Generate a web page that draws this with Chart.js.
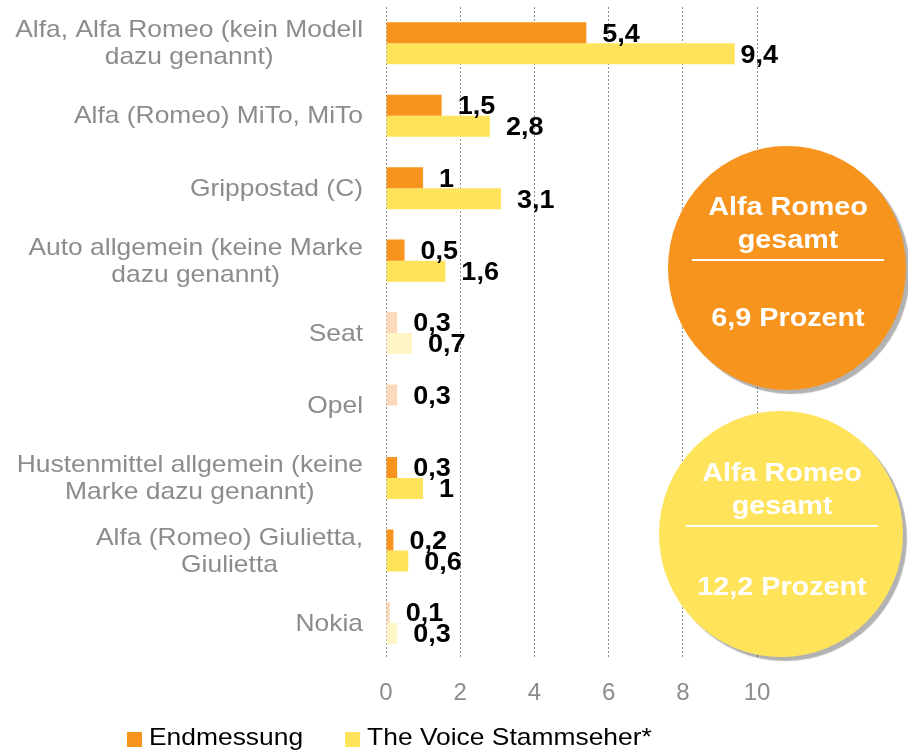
<!DOCTYPE html>
<html>
<head>
<meta charset="utf-8">
<script src="https://cdn.jsdelivr.net/npm/chart.js@4.4.1/dist/chart.umd.min.js"></script>
<style>
  html, body { margin: 0; padding: 0; background: #fff; }
  #wrap { width: 908px; height: 751px; }
</style>
</head>
<body>
<div id="wrap"><canvas id="chart"></canvas></div>
<script>
const categories = [
    ['Alfa, Alfa Romeo (kein Modell', 'dazu genannt)'],
    ['Alfa (Romeo) MiTo, MiTo'],
    ['Grippostad (C)'],
    ['Auto allgemein (keine Marke', 'dazu genannt)'],
    ['Seat'],
    ['Opel'],
    ['Hustenmittel allgemein (keine', 'Marke dazu genannt)'],
    ['Alfa (Romeo) Giulietta,', 'Giulietta'],
    ['Nokia']
];
const endmessung = [5.4, 1.5, 1, 0.5, 0.3, 0.3, 0.3, 0.2, 0.1];
const stammseher = [9.4, 2.8, 3.1, 1.6, 0.7, null, 1, 0.6, 0.3];
const faded = [false, false, false, false, true, true, false, false, true];
const seriesNames = ['Endmessung', 'The Voice Stammseher*'];
const totalTitle = ['Alfa Romeo', 'gesamt'];
const totals = ['6,9 Prozent', '12,2 Prozent'];
const xMin = 0, xMax = 10, xStep = 2;

const ORANGE = '#f7941d', ORANGE_LIGHT = '#fdd9bb';
const YELLOW = '#ffe35b', YELLOW_LIGHT = '#fff5c6';
const GREY = '#8c8c8c';
const FONT = '"Liberation Sans", Arial, sans-serif';

// the source picture's text is a bit wider than plain Arial
function stretchText(ctx, txt, x, y, sx) {
    ctx.save();
    ctx.translate(x, y);
    ctx.scale(sx, 1);
    ctx.fillText(txt, 0, 0);
    ctx.restore();
}

const decorations = {
    id: 'decorations',
    afterDatasetsDraw(chart) {
        const ctx = chart.ctx;
        const yScale = chart.scales.y;
        const area = chart.chartArea;

        // category labels: block right-aligned, lines centred in the block
        ctx.save();
        const SX = 1.1;
        ctx.font = '24px ' + FONT;
        ctx.fillStyle = GREY;
        ctx.textBaseline = 'middle';
        ctx.textAlign = 'center';
        const right = area.left - 23;
        const lineH = 27;
        categories.forEach((lines, i) => {
            const yc = yScale.getPixelForValue(i) + 1;
            const w = Math.max(...lines.map(l => ctx.measureText(l).width)) * SX;
            const cx = right - w / 2;
            lines.forEach((l, j) => {
                stretchText(ctx, l, cx, yc + (j - (lines.length - 1) / 2) * lineH, SX);
            });
        });
        ctx.restore();

        // value labels
        ctx.save();
        ctx.font = 'bold 25px ' + FONT;
        ctx.fillStyle = '#000';
        ctx.textBaseline = 'middle';
        ctx.textAlign = 'left';
        chart.data.datasets.forEach((ds, di) => {
            const meta = chart.getDatasetMeta(di);
            meta.data.forEach((bar, i) => {
                const v = ds.data[i];
                if (v === null || v === undefined) return;
                const txt = String(v).replace('.', ',');
                let x = bar.x + 16;
                const w = ctx.measureText(txt).width * 1.08;
                if (x + w > area.right + 21) x = area.right + 21 - w;
                stretchText(ctx, txt, x, bar.y + 2, 1.08);
            });
        });
        ctx.restore();

        // legend
        ctx.save();
        ctx.font = '24px ' + FONT;
        ctx.textBaseline = 'middle';
        ctx.textAlign = 'left';
        const ly = chart.height - 12;
        let lx = 127;
        [ORANGE, YELLOW].forEach((col, i) => {
            ctx.fillStyle = col;
            ctx.fillRect(lx, ly - 7, 15, 15);
            ctx.fillStyle = '#000';
            stretchText(ctx, seriesNames[i], lx + 22, ly - 1, 1.1);
            lx += 22 + ctx.measureText(seriesNames[i]).width * 1.1 + 42;
        });
        ctx.restore();
    },
    afterDraw(chart) {
        const ctx = chart.ctx;
        const circles = [
            { x: 787, y: 268, rx: 119, ry: 122, color: ORANGE, total: totals[0] },
            { x: 781, y: 534, rx: 122, ry: 123, color: YELLOW, total: totals[1] }
        ];
        circles.forEach((c, k) => {
            ctx.save();
            ctx.shadowColor = 'rgba(0,0,0,0.3)';
            ctx.shadowOffsetX = 4;
            ctx.shadowOffsetY = 4;
            ctx.shadowBlur = 1;
            ctx.fillStyle = c.color;
            ctx.beginPath();
            ctx.ellipse(c.x, c.y, c.rx, c.ry, 0, 0, Math.PI * 2);
            ctx.fill();
            ctx.restore();

            ctx.save();
            ctx.fillStyle = '#fff';
            ctx.strokeStyle = '#fff';
            ctx.font = 'bold 25px ' + FONT;
            ctx.textAlign = 'center';
            ctx.textBaseline = 'middle';
            stretchText(ctx, totalTitle[0], c.x + 1, c.y - 60, 1.15);
            stretchText(ctx, totalTitle[1], c.x + 1, c.y - 27, 1.15);
            ctx.lineWidth = 2;
            ctx.beginPath();
            ctx.moveTo(c.x - 95, c.y - 8);
            ctx.lineTo(c.x + 97, c.y - 8);
            ctx.stroke();
            stretchText(ctx, c.total, c.x + 1, c.y + 51 + k * 3, 1.15);
            ctx.restore();
        });
    }
};

const ctx = document.getElementById('chart').getContext('2d');
new Chart(ctx, {
    type: 'bar',
    data: {
        labels: categories.map((c, i) => i),
        datasets: [
            {
                label: seriesNames[0],
                data: endmessung,
                backgroundColor: c => faded[c.dataIndex] ? ORANGE_LIGHT : ORANGE,
                barPercentage: 1,
                categoryPercentage: 0.58
            },
            {
                label: seriesNames[1],
                data: stammseher,
                backgroundColor: c => faded[c.dataIndex] ? YELLOW_LIGHT : YELLOW,
                barPercentage: 1,
                categoryPercentage: 0.58
            }
        ]
    },
    options: {
        indexAxis: 'y',
        responsive: true,
        maintainAspectRatio: false,
        animation: false,
        layout: { padding: { top: 7, right: 151, bottom: 23, left: 0 } },
        plugins: {
            tooltip: { enabled: false },
            legend: { display: false }
        },
        scales: {
            x: {
                min: xMin,
                max: xMax,
                ticks: { stepSize: xStep, color: GREY, font: { size: 24, family: FONT }, padding: 20 },
                grid: { color: '#8f8f8f', lineWidth: 1, drawTicks: false, borderDash: [2, 2] },
                border: { display: false, dash: [2, 2] }
            },
            y: {
                ticks: { display: false },
                grid: { display: false },
                border: { display: false },
                afterFit: s => { s.width = 386; }
            }
        }
    },
    plugins: [decorations]
});
</script>
</body>
</html>
